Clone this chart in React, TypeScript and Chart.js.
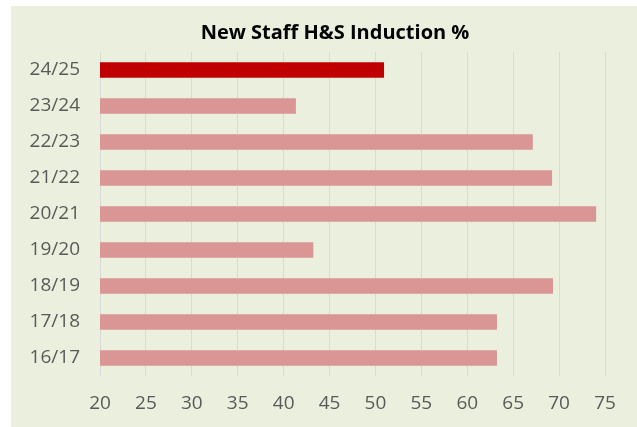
import React, { useEffect, useRef } from "react";
import { Chart, registerables } from "chart.js";

Chart.register(...registerables);

const categories = ["24/25", "23/24", "22/23", "21/22", "20/21", "19/20", "18/19", "17/18", "16/17"];
const inductionPct = [50.9, 41.3, 67.1, 69.2, 74.0, 43.2, 69.3, 63.2, 63.2];
const xTicks = [20, 25, 30, 35, 40, 45, 50, 55, 60, 65, 70, 75];
const highlightColor = "#C00000";
const baseColor = "#DA9694";

const titleShift = {
  id: "titleShift",
  afterLayout(chart: any) {
    const t = chart.titleBlock;
    if (t) {
      t.left = 54;
      t.right = 594;
    }
  },
};

export default function App() {
  const ref = useRef<HTMLCanvasElement | null>(null);
  useEffect(() => {
    if (!ref.current) return;
    const font = "'Open Sans', 'Liberation Sans', sans-serif";
    const chart = new Chart(ref.current, {
      type: "bar",
      data: {
        labels: categories,
        datasets: [
          {
            data: inductionPct,
            backgroundColor: inductionPct.map((_, i) => (i === 0 ? highlightColor : baseColor)),
            borderWidth: 0,
            barThickness: 15,
          },
        ],
      },
      plugins: [titleShift],
      options: {
        indexAxis: "y",
        animation: false,
        responsive: false,
        maintainAspectRatio: false,
        layout: { padding: { left: 0, right: 32, top: 0, bottom: 0 } },
        plugins: {
          legend: { display: false },
          tooltip: { enabled: false },
          title: {
            display: true,
            text: "New Staff H&S Induction %",
            color: "#000000",
            font: { family: font, size: 20, weight: "bold" },
            padding: { top: 15, bottom: 7 },
          },
        },
        scales: {
          x: {
            min: 20,
            max: 75,
            afterBuildTicks: (scale: any) => {
              scale.ticks = xTicks.map((v) => ({ value: v }));
            },
            afterFit: (scale: any) => {
              scale.height = 51;
            },
            grid: { color: "#D9D9D9", lineWidth: 1, drawTicks: false },
            border: { display: false },
            ticks: {
              color: "#595959",
              font: { family: font, size: 19 },
              padding: 16,
              maxRotation: 0,
            },
          },
          y: {
            afterFit: (scale: any) => {
              scale.width = 89;
            },
            grid: { display: false, drawTicks: false },
            border: { display: false },
            ticks: {
              color: "#595959",
              font: { family: font, size: 19 },
              padding: 20,
            },
          },
        },
      },
    });
    return () => chart.destroy();
  }, []);
  return (
    <div
      style={{
        position: "absolute",
        left: 11,
        top: 6,
        width: 626,
        height: 421,
        background: "#EBF0DE",
      }}
    >
      <canvas ref={ref} width={626} height={421} style={{ display: "block", width: 626, height: 421 }} />
    </div>
  );
}
